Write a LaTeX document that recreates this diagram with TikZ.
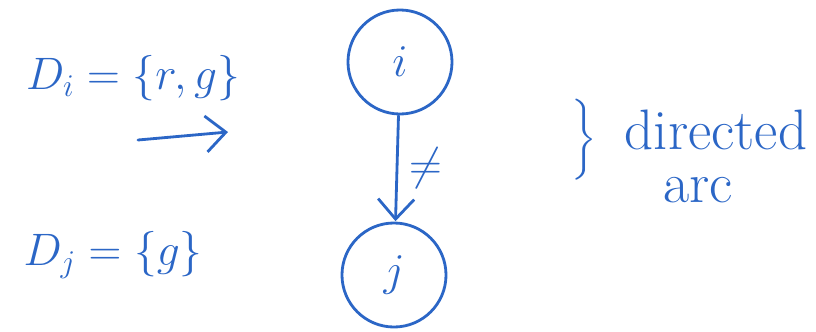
\documentclass[tikz,border=0pt]{standalone}
\usepackage{amsmath,amssymb}
\usepackage{tikz}
\usetikzlibrary{arrows.meta,positioning}
\usepackage{xcolor}
\definecolor{ink}{HTML}{2B66C6}

\begin{document}
\begin{tikzpicture}[x=0.025cm,y=-0.025cm,
  hand/.style={ink,font=\fontsize{24}{29}\selectfont,scale=1.3,transform shape},
  note/.style={hand,scale=1.3},
  vertex/.style={circle,draw=ink,line width=2pt,minimum size=2cm,inner sep=0pt,hand},
  arc/.style={ink,line width=2pt,line cap=round,-{Straight Barb[length=5mm,width=9mm,line width=2pt]}}]
  \useasboundingbox (0,0) rectangle (816,331);
  % domains
  \node[hand] (Di) at (133,78) {$D_i = \{r, g\}$};
  \node[hand] (Dj) at (113,255) {$D_j = \{g\}$};
  \coordinate (a1) at (138,140);
  \coordinate (a2) at (228,132);
  \draw[arc] (a1) -- (a2);
  % the two variables
  \node[vertex] (i) at (400,62) {$i$};
  \node[vertex] (j) at (394,275) {$j$};
  \draw[arc] (i) -- (j) node[midway,right=3pt,hand] (ne) {$\neq$};
  % note
  \node[ink,font=\fontsize{24}{29}\selectfont] (brace) at (584,140) {$\bigg\}$};
  \node[note] (dir) at (716,130) {directed};
  \node[note] (arcl) at (698,190) {arc};
\end{tikzpicture}
\end{document}
